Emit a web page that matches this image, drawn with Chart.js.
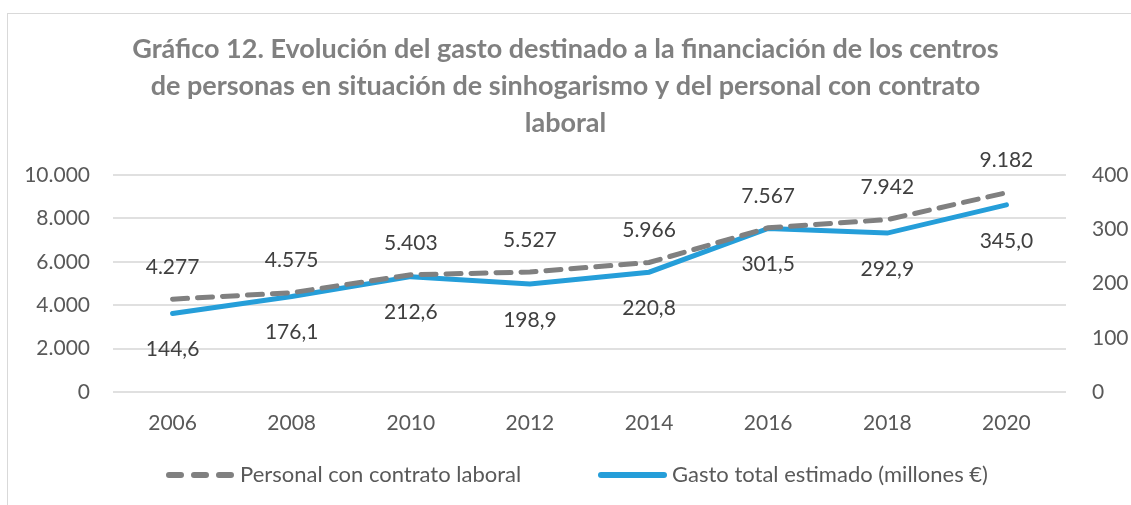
<!DOCTYPE html>
<html>
<head>
<meta charset="utf-8">
<script src="https://cdn.jsdelivr.net/npm/chart.js@4"></script>
<style>
  html, body { margin: 0; padding: 0; background: #fff; overflow: hidden; }
  #marco { position: absolute; left: 7px; top: 13px; width: 1200px; height: 600px; border: 1px solid #d9d9d9; }
  #caja { position: absolute; left: 0; top: 0; width: 1131px; height: 505px; }
</style>
</head>
<body>
<div id="marco"></div>
<div id="caja"><canvas id="grafico"></canvas></div>
<script>
const anios = ['2006', '2008', '2010', '2012', '2014', '2016', '2018', '2020'];
const personal = [4277, 4575, 5403, 5527, 5966, 7567, 7942, 9182];
const gasto = [144.6, 176.1, 212.6, 198.9, 220.8, 301.5, 292.9, 345.0];
const titulo = [
    'Gráfico 12. Evolución del gasto destinado a la financiación de los centros',
    'de personas en situación de sinhogarismo y del personal con contrato',
    'laboral'
];

const FUENTE = 'Lato, "Noto Sans", sans-serif';
const GRIS = '#808080';
const AZUL = '#259ed9';

// miles con punto, decimales con coma
function miles(v) {
    return String(Math.round(v)).replace(/\B(?=(\d{3})+(?!\d))/g, '.');
}
function decimal(v) {
    return v.toFixed(1).replace('.', ',');
}

// etiquetas de datos a mano (no hay plugin de datalabels)
const etiquetas = {
    id: 'etiquetas',
    afterDatasetsDraw(chart) {
        const ctx = chart.ctx;
        ctx.save();
        ctx.font = '21px ' + FUENTE;
        ctx.fillStyle = '#404040';
        ctx.textAlign = 'center';
        ctx.textBaseline = 'middle';
        chart.getDatasetMeta(0).data.forEach((p, i) => {
            ctx.fillText(miles(personal[i]), p.x, p.y - 32);
        });
        chart.getDatasetMeta(1).data.forEach((p, i) => {
            ctx.fillText(decimal(gasto[i]), p.x, p.y + 36);
        });
        ctx.restore();
    }
};

// leyenda propia, para poder separar los elementos como en el original
const leyenda = {
    id: 'leyenda',
    afterDraw(chart) {
        const ctx = chart.ctx;
        const y = 475;
        const items = [
            { x: 166, ds: chart.data.datasets[0], dash: [12, 13] },
            { x: 598, ds: chart.data.datasets[1], dash: [] }
        ];
        ctx.save();
        ctx.font = '22px ' + FUENTE;
        ctx.textBaseline = 'middle';
        items.forEach(it => {
            ctx.strokeStyle = it.ds.borderColor;
            ctx.lineWidth = 6;
            ctx.lineCap = 'round';
            ctx.setLineDash(it.dash);
            ctx.beginPath();
            ctx.moveTo(it.x + 3, y);
            ctx.lineTo(it.x + 66, y);
            ctx.stroke();
            ctx.setLineDash([]);
            ctx.fillStyle = '#595959';
            ctx.fillText(it.ds.label, it.x + 74, y);
        });
        ctx.restore();
    }
};

const ctx = document.getElementById('grafico').getContext('2d');
new Chart(ctx, {
    type: 'line',
    data: {
        labels: anios,
        datasets: [{
            label: 'Personal con contrato laboral',
            data: personal,
            borderColor: GRIS,
            borderWidth: 5,
            borderDash: [15, 10],
            borderCapStyle: 'round',
            pointRadius: 0,
            yAxisID: 'y'
        }, {
            label: 'Gasto total estimado (millones €)',
            data: gasto,
            borderColor: AZUL,
            borderWidth: 5,
            borderCapStyle: 'round',
            pointRadius: 0,
            yAxisID: 'y2'
        }]
    },
    options: {
        responsive: true,
        maintainAspectRatio: false,
        animation: false,
        layout: { padding: { left: 0, right: 0, top: 0, bottom: 53 } },
        scales: {
            x: {
                offset: true,
                grid: { display: false },
                border: { display: false },
                ticks: { color: '#595959', font: { family: FUENTE, size: 21 }, padding: 11 },
                afterFit(s) { s.height = 60; }
            },
            y: {
                position: 'left',
                min: 0,
                max: 10000,
                grid: { color: '#e0e0e0', lineWidth: 2, drawTicks: false },
                border: { display: false },
                ticks: {
                    stepSize: 2000,
                    color: '#595959',
                    font: { family: FUENTE, size: 21 },
                    padding: 23,
                    callback: v => miles(v)
                },
                afterFit(s) { s.width = 113; }
            },
            y2: {
                position: 'right',
                min: 0,
                max: 400,
                grid: { display: false, drawTicks: false },
                border: { display: false },
                ticks: {
                    stepSize: 100,
                    color: '#595959',
                    font: { family: FUENTE, size: 21 },
                    padding: 26
                },
                afterFit(s) { s.width = 65; }
            }
        },
        plugins: {
            title: {
                display: true,
                text: titulo,
                color: GRIS,
                font: { family: FUENTE, size: 27, weight: 'bold', lineHeight: 1.37 },
                padding: { top: 31, bottom: 33 }
            },
            legend: { display: false },
            tooltip: { enabled: false }
        }
    },
    plugins: [etiquetas, leyenda]
});
</script>
</body>
</html>
